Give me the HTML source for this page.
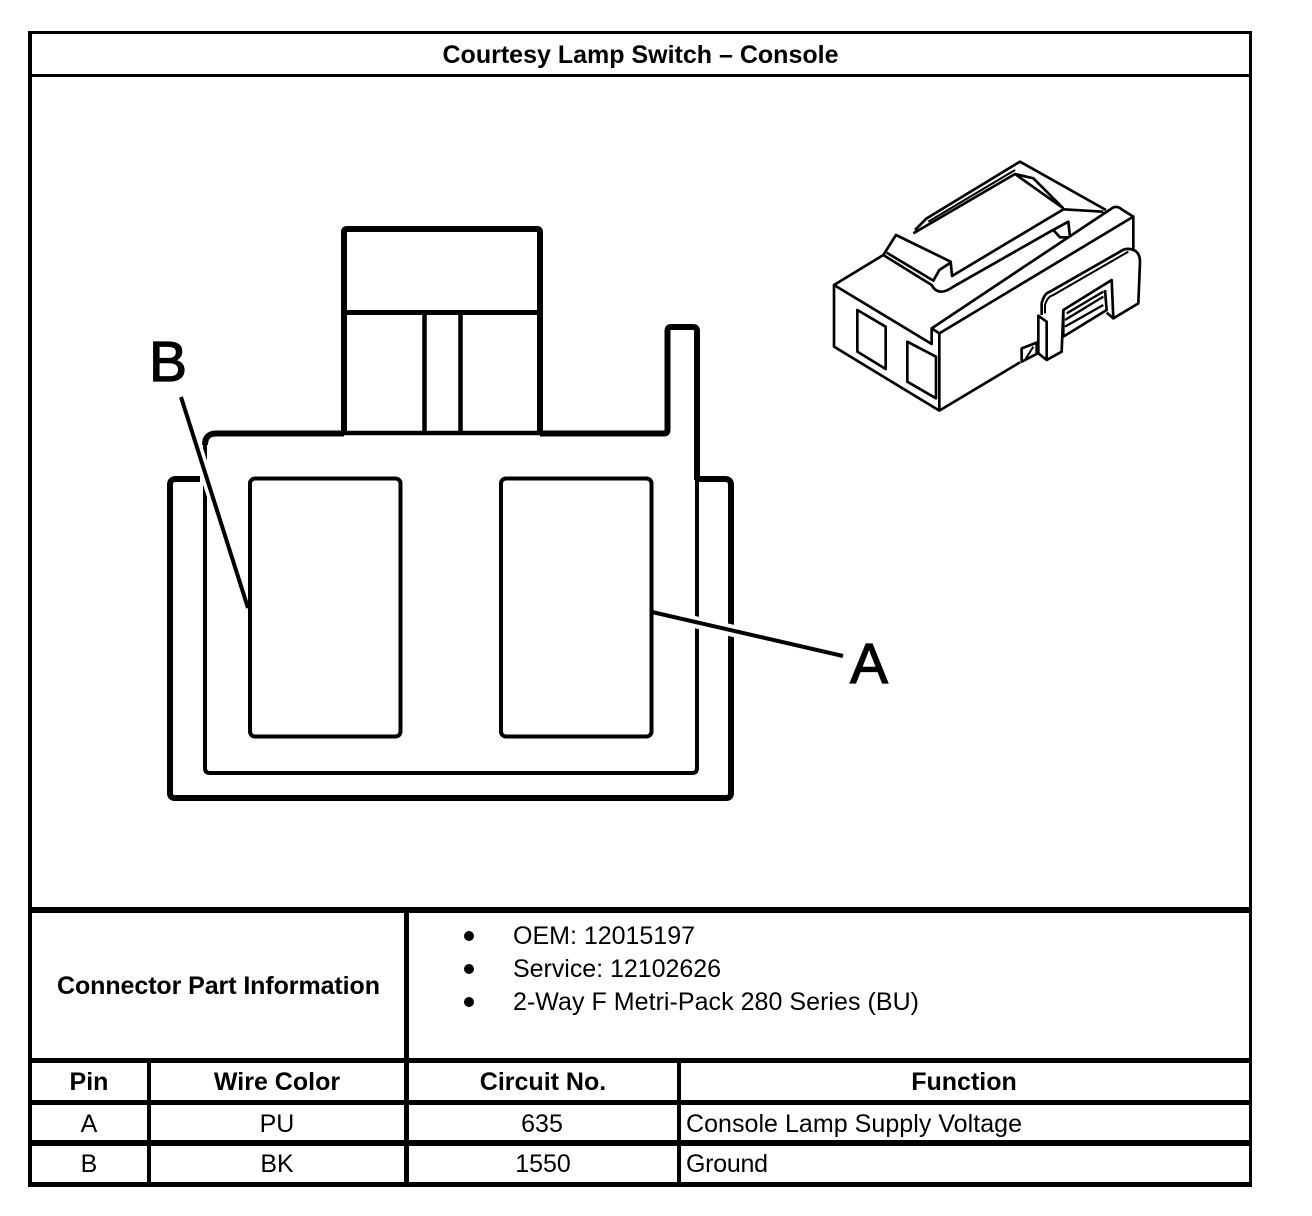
<!DOCTYPE html>
<html>
<head>
<meta charset="utf-8">
<style>
html,body{margin:0;padding:0;background:#fff;width:1312px;height:1216px;overflow:hidden}
svg{display:block}
text{font-family:"Liberation Sans",sans-serif;font-size:25px;fill:#000}
.b{font-weight:bold}
.m{text-anchor:middle}
.big{font-size:57px;stroke:#000;stroke-width:1.2px}
</style>
</head>
<body>
<svg width="1312" height="1216" viewBox="0 0 1312 1216" xmlns="http://www.w3.org/2000/svg">
<rect width="1312" height="1216" fill="#fff"/>
<!-- table frame -->
<g fill="#000" shape-rendering="crispEdges">
<rect x="28" y="31" width="1224" height="3"/>
<rect x="28" y="74" width="1224" height="3"/>
<rect x="28" y="907" width="1224" height="6"/>
<rect x="28" y="1058" width="1224" height="5"/>
<rect x="28" y="1100" width="1224" height="5"/>
<rect x="28" y="1140" width="1224" height="6"/>
<rect x="28" y="1182" width="1224" height="5"/>
<rect x="28" y="31" width="4" height="1156"/>
<rect x="1249" y="31" width="3" height="1156"/>
<rect x="404" y="907" width="5" height="280"/>
<rect x="147" y="1058" width="4" height="129"/>
<rect x="677" y="1058" width="4" height="129"/>
</g>
<!-- table text -->
<text class="b m" x="640.5" y="63" textLength="396">Courtesy Lamp Switch – Console</text>
<text class="b" x="57" y="994" textLength="323">Connector Part Information</text>
<circle cx="469" cy="936" r="5"/><circle cx="469" cy="969" r="5"/><circle cx="469" cy="1002" r="5"/>
<text x="513" y="944" textLength="182">OEM: 12015197</text>
<text x="513" y="977" textLength="208">Service: 12102626</text>
<text x="513" y="1010" textLength="406">2-Way F Metri-Pack 280 Series (BU)</text>
<text class="b m" x="89" y="1090">Pin</text>
<text class="b m" x="277" y="1090">Wire Color</text>
<text class="b m" x="543" y="1090">Circuit No.</text>
<text class="b m" x="964" y="1090">Function</text>
<text class="m" x="89" y="1132">A</text>
<text class="m" x="277" y="1132">PU</text>
<text class="m" x="542" y="1132">635</text>
<text x="686" y="1132" textLength="336">Console Lamp Supply Voltage</text>
<text class="m" x="89" y="1172">B</text>
<text class="m" x="277" y="1172">BK</text>
<text class="m" x="543" y="1172">1550</text>
<text x="686" y="1172" textLength="82">Ground</text>
<!-- connector face -->
<g fill="none" stroke="#000" stroke-linejoin="round" stroke-linecap="butt">
<path d="M344 433V232Q344 229 347 229H537Q540 229 540 232V433" stroke-width="6"/>
<path d="M344 312.500H540" stroke-width="5"/>
<path d="M424.500 312V433M460.500 312V433" stroke-width="4.500"/>
<path d="M344 433H540" stroke-width="4.500"/>
<path d="M205 445Q205 433.500 216 433.500H344M540 433.500H664Q667.500 433.500 667.500 430V331Q667.500 327 671 327H693Q697 327 697 331V480" stroke-width="6"/>
<path d="M205 440V768Q205 773 210 773H692Q697 773 697 768V478" stroke-width="4"/>
<path d="M200 479H176Q170 479 170 485V793Q170 798 175 798H726Q731 798 731 793V485Q731 479 725 479H697" stroke-width="6"/>
<rect x="250" y="478.500" width="150.500" height="258" rx="5" stroke-width="4"/>
<rect x="501" y="478.500" width="150.500" height="258" rx="5" stroke-width="4"/>
<!-- leaders -->
<path d="M181 397L248 608" stroke="#fff" stroke-width="11"/>
<path d="M664 615L843 656" stroke="#fff" stroke-width="12"/>
<path d="M181 397L248 608" stroke-width="4"/>
<path d="M652 612L843 656" stroke-width="4"/>
<path d="M250 590V620" stroke-width="4"/>
</g>
<text class="big" x="149" y="381">B</text>
<text class="big" x="850" y="683">A</text>
<!-- 3D connector -->
<g transform="translate(820 150) scale(.33333)" fill="none" stroke="#000" stroke-width="8" stroke-linejoin="round">
<path d="M190 315L42 405V590L358 782L600 637"/>
<path d="M42 405L335 582V535L358 550V782"/>
<path d="M335 535L880 172Q895 168 905 178L940 200V297"/>
<path d="M358 550L940 200"/>
<path d="M112 480L197 530V657L112 605Z"/>
<path d="M262 575L348 620V745L262 695Z"/>
<path d="M190 315L228 255L392 335L396 378L730 178L850 185"/>
<path d="M190 315L335 405Q345 425 365 425Q378 425 400 410L690 245L745 215L750 262"/>
<path d="M200 308L340 392L358 360L392 338"/>
<path d="M280 250L585 72L730 175"/>
<path d="M285 240L320 205L600 35L858 180"/>
<path d="M325 215L585 60" stroke-width="6"/>
<path d="M585 72L640 85L730 175"/>
<path d="M700 240L720 262L745 262"/>
<path d="M665 495V460Q672 430 690 425L900 305Q920 290 945 302Q960 312 960 335L955 460L880 505L875 390L730 480L725 605L680 630L655 610V497L680 515V630"/>
<path d="M675 490V465Q682 440 700 435L925 305" stroke-width="6"/>
<path d="M730 480V560L860 480L855 420"/>
<path d="M735 510L850 440M735 530L850 465M740 490L850 425" stroke-width="7"/>
<path d="M605 595L650 578V612L605 635Z"/>
<path d="M618 625L640 590" stroke-width="6"/>
<path d="M860 488L880 505"/>
</g>
</svg>
</body>
</html>
